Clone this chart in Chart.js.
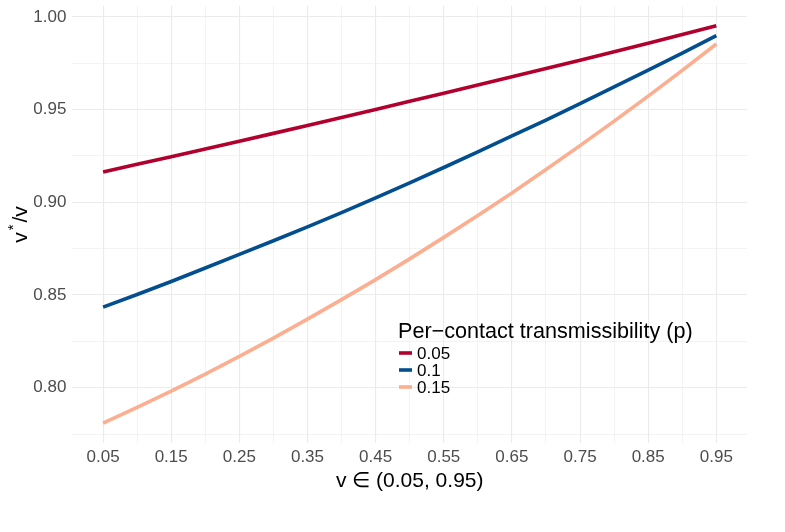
<!DOCTYPE html>
<html>
<head>
<meta charset="utf-8">
<script src="https://cdn.jsdelivr.net/npm/chart.js@4"></script>
<style>
  html, body { margin: 0; padding: 0; background: #ffffff; }
  #c { display: block; }
</style>
</head>
<body>
<canvas id="c" width="785" height="532"></canvas>
<script>
// ---- data ----
const vValues = [0.05, 0.10, 0.15, 0.20, 0.25, 0.30, 0.35, 0.40, 0.45, 0.50,
                 0.55, 0.60, 0.65, 0.70, 0.75, 0.80, 0.85, 0.90, 0.95];
const seriesP005 = [0.9164, 0.9205, 0.9246, 0.9288, 0.9330, 0.9372, 0.9415, 0.9458, 0.9501, 0.9545,
                    0.9589, 0.9633, 0.9677, 0.9722, 0.9767, 0.9812, 0.9858, 0.9905, 0.9952];
const seriesP010 = [0.8435, 0.8503, 0.8573, 0.8646, 0.8719, 0.8793, 0.8868, 0.8945, 0.9024, 0.9105,
                    0.9188, 0.9272, 0.9358, 0.9444, 0.9533, 0.9623, 0.9713, 0.9805, 0.9899];
const seriesP015 = [0.7809, 0.7894, 0.7982, 0.8074, 0.8169, 0.8268, 0.8370, 0.8475, 0.8583, 0.8695,
                    0.8811, 0.8929, 0.9051, 0.9177, 0.9306, 0.9438, 0.9573, 0.9712, 0.9854];
const seriesLabels = ['0.05', '0.1', '0.15'];
const seriesColors = ['#B2002E', '#034E8F', '#FCAE91'];
const xTickValues = [0.05, 0.10, 0.15, 0.20, 0.25, 0.30, 0.35, 0.40, 0.45, 0.50,
                     0.55, 0.60, 0.65, 0.70, 0.75, 0.80, 0.85, 0.90, 0.95];
const xTickLabels = ['0.05', '', '0.15', '', '0.25', '', '0.35', '', '0.45', '',
                     '0.55', '', '0.65', '', '0.75', '', '0.85', '', '0.95'];
const yTickValues = [0.775, 0.800, 0.825, 0.850, 0.875, 0.900, 0.925, 0.950, 0.975, 1.000];
const yTickLabels = ['', '0.80', '', '0.85', '', '0.90', '', '0.95', '', '1.00'];
const legendTitle = 'Per\u2212contact transmissibility (p)';
const xTitle = 'v \u2208 (0.05, 0.95)';

const FONT = '"Liberation Sans", Arial, Helvetica, sans-serif';

const allSeries = [seriesP005, seriesP010, seriesP015];
const datasets = allSeries.map((s, i) => ({
  label: seriesLabels[i],
  data: s.map((y, j) => ({ x: vValues[j], y: y })),
  borderColor: seriesColors[i],
  backgroundColor: seriesColors[i],
  borderWidth: 3.6,
  pointRadius: 0,
  tension: 0,
  fill: false,
  borderCapStyle: 'butt'
}));

function isMajorX(v) { const i = xTickValues.findIndex(t => Math.abs(t - v) < 1e-9); return i >= 0 && xTickLabels[i] !== ''; }
function isMajorY(v) { const i = yTickValues.findIndex(t => Math.abs(t - v) < 1e-9); return i >= 0 && yTickLabels[i] !== ''; }

const annotPlugin = {
  id: 'annot',
  afterDraw(chart) {
    const ctx = chart.ctx;
    const ca = chart.chartArea;
    ctx.save();
    // X title
    ctx.fillStyle = '#000000';
    ctx.font = '21px ' + FONT;
    ctx.textAlign = 'center';
    ctx.textBaseline = 'alphabetic';
    ctx.fillText(xTitle, (ca.left + ca.right) / 2, 487);

    // Y title v^*/v rotated
    ctx.save();
    ctx.translate(27, (ca.top + ca.bottom) / 2);
    ctx.rotate(-Math.PI / 2);
    ctx.textAlign = 'left';
    ctx.textBaseline = 'alphabetic';
    const big = '21px ' + FONT, small = '15px ' + FONT;
    ctx.font = big; const w1 = ctx.measureText('v').width;
    ctx.font = small; const w2 = ctx.measureText('*').width;
    ctx.font = big; const w3 = ctx.measureText('/v').width;
    const gap = 2;
    const total = w1 + gap + w2 + gap + w3;
    let u = -total / 2;
    ctx.font = big; ctx.fillText('v', u, 0); u += w1 + gap;
    ctx.font = small; ctx.fillText('*', u, -9); u += w2 + gap;
    ctx.font = big; ctx.fillText('/v', u, 0);
    ctx.restore();

    // Legend
    const lx = 398;
    ctx.fillStyle = '#000000';
    ctx.font = '21.6px ' + FONT;
    ctx.textAlign = 'left';
    ctx.textBaseline = 'alphabetic';
    ctx.fillText(legendTitle, lx, 338);
    chart.data.datasets.forEach((ds, i) => {
      const y = 353 + i * 17;
      ctx.strokeStyle = ds.borderColor;
      ctx.lineWidth = 3.6;
      ctx.beginPath();
      ctx.moveTo(lx + 1, y);
      ctx.lineTo(lx + 14, y);
      ctx.stroke();
      ctx.fillStyle = '#000000';
      ctx.font = '17px ' + FONT;
      ctx.textBaseline = 'middle';
      ctx.fillText(ds.label, lx + 19, y + 1);
    });
    ctx.restore();
  }
};

new Chart(document.getElementById('c'), {
  type: 'line',
  data: { datasets: datasets },
  plugins: [annotPlugin],
  options: {
    responsive: false,
    devicePixelRatio: 1,
    animation: false,
    layout: { padding: { left: 0, right: 38, top: 6, bottom: 0 } },
    plugins: { legend: { display: false }, tooltip: { enabled: false } },
    scales: {
      x: {
        type: 'linear',
        min: 0.005,
        max: 0.995,
        afterBuildTicks: (scale) => { scale.ticks = xTickValues.map(v => ({ value: v })); },
        afterFit: (scale) => { scale.height = 89; scale.paddingLeft = 0; scale.paddingRight = 0; },
        border: { display: false },
        grid: {
          drawTicks: false,
          color: '#EBEBEB',
          lineWidth: (c) => (c.tick && isMajorX(c.tick.value)) ? 1.1 : 0.6
        },
        ticks: {
          autoSkip: false,
          maxRotation: 0,
          padding: 4,
          color: '#4D4D4D',
          font: { family: FONT, size: 17 },
          callback: (v, i) => xTickLabels[i]
        }
      },
      y: {
        type: 'linear',
        min: 0.7702,
        max: 1.0059,
        afterBuildTicks: (scale) => { scale.ticks = yTickValues.map(v => ({ value: v })); },
        afterFit: (scale) => { scale.width = 72.4; scale.paddingTop = 0; scale.paddingBottom = 0; },
        border: { display: false },
        grid: {
          drawTicks: false,
          color: '#EBEBEB',
          lineWidth: (c) => (c.tick && isMajorY(c.tick.value)) ? 1.1 : 0.6
        },
        ticks: {
          autoSkip: false,
          padding: 6,
          color: '#4D4D4D',
          font: { family: FONT, size: 17 },
          callback: (v, i) => yTickLabels[i]
        }
      }
    }
  }
});
</script>
</body>
</html>
